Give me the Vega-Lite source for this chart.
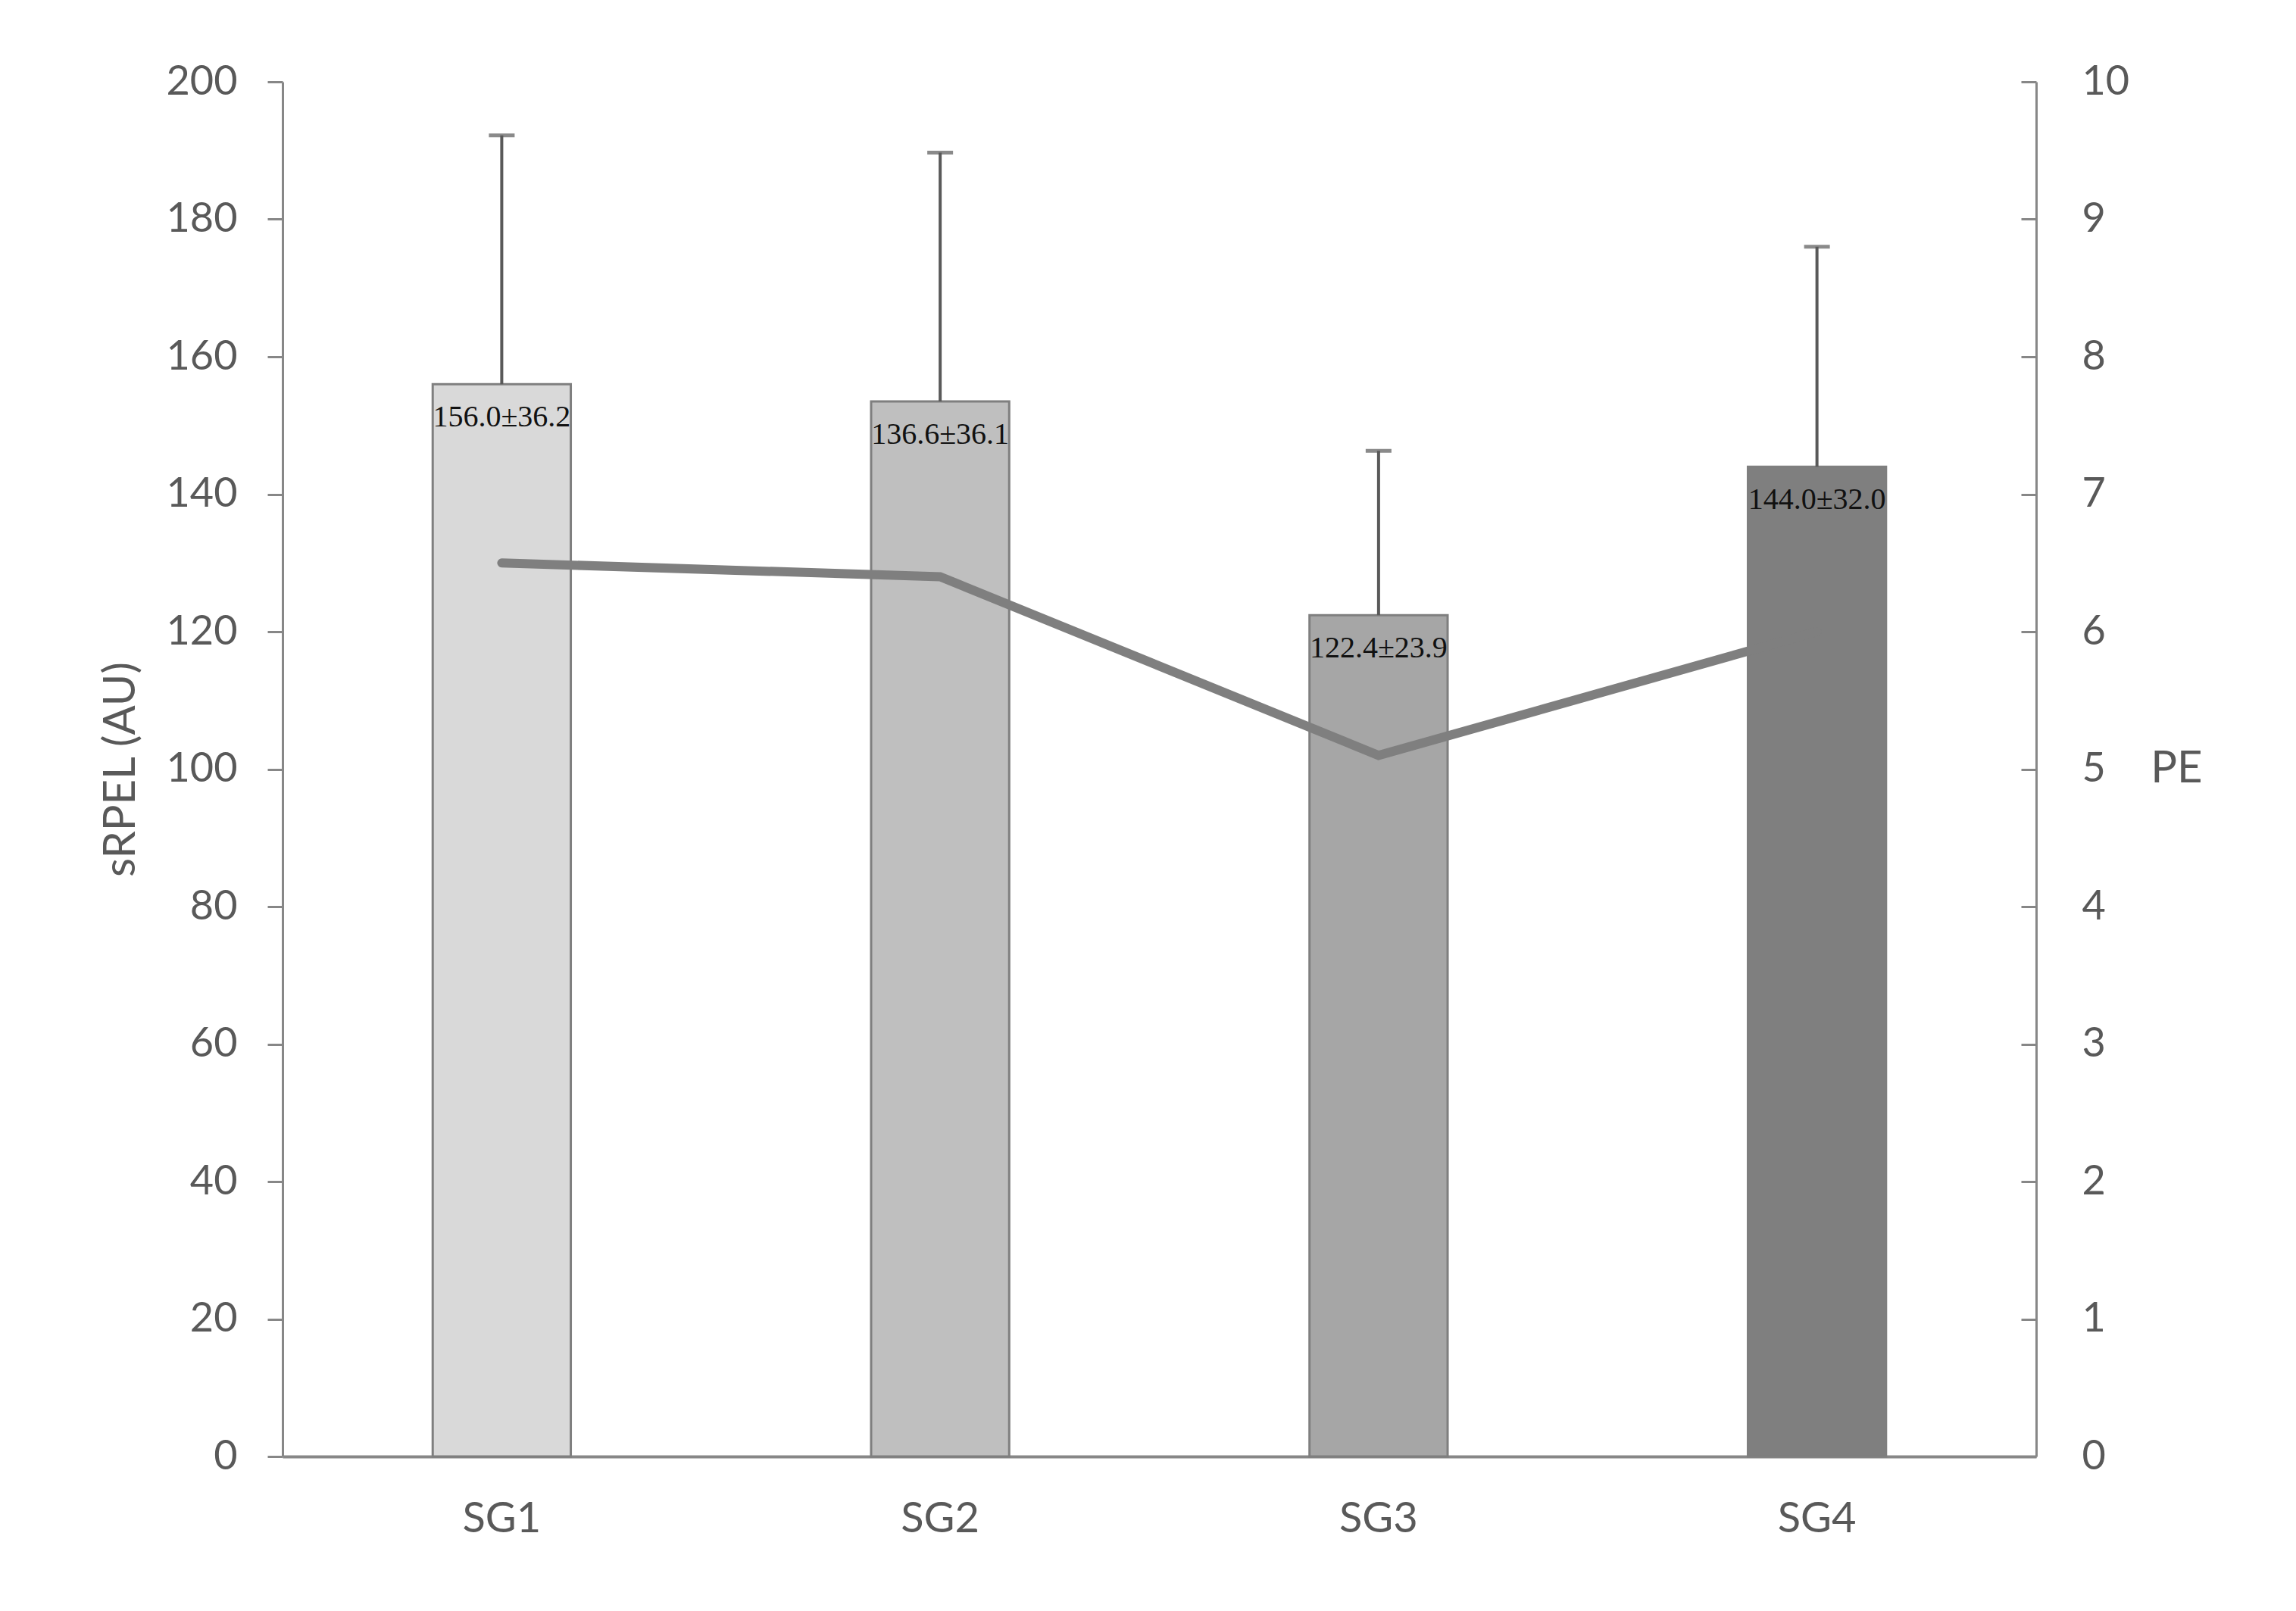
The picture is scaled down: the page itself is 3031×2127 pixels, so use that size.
{
  "$schema": "https://vega.github.io/schema/vega-lite/v6.json",
  "width": 2315,
  "height": 1815,
  "autosize": {"type": "none"},
  "padding": {"left": 373, "top": 108, "right": 343, "bottom": 204},
  "background": "white",
  "config": {
    "view": {"stroke": null},
    "font": "Lato",
    "axis": {
      "labelFont": "Lato",
      "titleFont": "Lato",
      "labelFontSize": 54,
      "titleFontSize": 58,
      "labelColor": "#595959",
      "titleColor": "#595959",
      "titleFontWeight": "normal",
      "grid": false,
      "domainColor": "#878787",
      "domainWidth": 3,
      "tickColor": "#878787",
      "tickWidth": 3
    }
  },
  "data": {
    "values": [
      {"group": "SG1", "srpel": 156.0, "upper": 192.2, "pe": 6.5, "label": "156.0±36.2"},
      {"group": "SG2", "srpel": 153.5, "upper": 189.7, "pe": 6.4, "label": "136.6±36.1"},
      {"group": "SG3", "srpel": 122.4, "upper": 146.3, "pe": 5.1, "label": "122.4±23.9"},
      {"group": "SG4", "srpel": 144.0, "upper": 176.0, "pe": 6.0, "label": "144.0±32.0"}
    ]
  },
  "encoding": {
    "x": {
      "field": "group",
      "type": "nominal",
      "scale": {"paddingInner": 0.685, "paddingOuter": 0.3425},
      "axis": {"title": null, "ticks": false, "labelAngle": 0, "labelPadding": 55, "labelFontSize": 56, "domainWidth": 4}
    }
  },
  "layer": [
    {
      "encoding": {
        "y": {
          "field": "srpel",
          "type": "quantitative",
          "title": "sRPEL (AU)",
          "scale": {"domain": [0, 200], "nice": false},
          "axis": {
            "orient": "left",
            "values": [0, 20, 40, 60, 80, 100, 120, 140, 160, 180, 200],
            "tickSize": 20,
            "labelPadding": 40,
            "titlePadding": 30
          }
        }
      },
      "layer": [
        {
          "mark": {"type": "bar", "stroke": "#7f7f7f", "strokeWidth": 3},
          "encoding": {
            "color": {
              "field": "group",
              "type": "nominal",
              "scale": {"range": ["#d9d9d9", "#bfbfbf", "#a6a6a6", "#7f7f7f"]},
              "legend": null
            }
          }
        },
        {
          "mark": {"type": "rule", "color": "#595959", "strokeWidth": 4},
          "encoding": {"y2": {"field": "upper"}}
        },
        {
          "mark": {"type": "tick", "color": "#595959", "thickness": 5, "size": 34, "orient": "horizontal"},
          "encoding": {"y": {"field": "upper", "type": "quantitative", "title": "sRPEL (AU)"}}
        },
        {
          "mark": {"type": "text", "font": "Liberation Serif", "fontSize": 40, "color": "#111111", "baseline": "middle", "dy": 44},
          "encoding": {"text": {"field": "label"}}
        }
      ]
    },
    {
      "mark": {"type": "line", "color": "#7f7f7f", "strokeWidth": 12, "strokeCap": "round"},
      "encoding": {
        "y": {
          "field": "pe",
          "type": "quantitative",
          "title": "PE",
          "scale": {"domain": [0, 10], "nice": false},
          "axis": {
            "orient": "right",
            "values": [0, 1, 2, 3, 4, 5, 6, 7, 8, 9, 10],
            "tickSize": -20,
            "labelPadding": 80,
            "labelAlign": "left",
            "titleAngle": 0,
            "titleAlign": "left",
            "titleBaseline": "middle",
            "titlePadding": 28
          }
        }
      }
    }
  ],
  "resolve": {"scale": {"y": "independent"}}
}
